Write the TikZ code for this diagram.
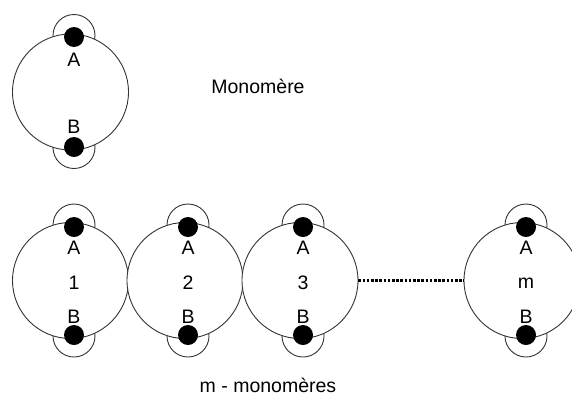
\documentclass[tikz,border=0pt]{standalone}
\usepackage{fontspec}
\setmainfont{Liberation Sans}
\begin{document}
\begin{tikzpicture}[x=1pt,y=-1pt,
  mono/.style={circle,draw=black!80,line width=0.9pt,fill=white,minimum size=116pt,inner sep=0pt},
  loopring/.style={circle,draw=black!80,line width=0.9pt,minimum size=42pt,inner sep=0pt},
  site/.style={circle,fill=black,minimum size=20pt,inner sep=0pt},
  lbl/.style={font=\fontsize{19.5}{22}\selectfont,inner sep=0pt}]
\useasboundingbox (0,0) rectangle (572,397);

% single monomer: end rings first, then the body, then the two sites
\node[loopring] (r0a) at (74,35.5) {};
\node[loopring] (r0b) at (74,147.5) {};
\node[mono] (c0) at (70.5,92) {};
\node[site] (s0a) at (74,37) {};
\node[site] (s0b) at (74,147) {};
\node[lbl] (a0) at (74,60) {A};
\node[lbl] (b0) at (74,127) {B};
\node[lbl] (t0) at (258,86) {Monomère};

% chain of m monomers
\foreach \n/\cx/\dx/\txt in {1/70.5/74/1, 2/185/188/2, 3/300/303/3, m/522/526/m}{
  \node[loopring] (r\n a) at (\dx,225) {};
  \node[loopring] (r\n b) at (\dx,336) {};
  \node[mono] (c\n) at (\cx,280.5) {};
  \node[site] (s\n a) at (\dx,227) {};
  \node[site] (s\n b) at (\dx,335) {};
  \node[lbl] (a\n) at (\dx,248) {A};
  \node[lbl] (k\n) at (\dx,283) {\txt};
  \node[lbl] (b\n) at (\dx,317) {B};
}

% gap in the chain
\draw[line width=3pt,dash pattern=on 2.6pt off 1.6pt] (c3.east) -- (cm.west);

\node[lbl] (t1) at (268,385) {m - monomères};
\end{tikzpicture}
\end{document}
